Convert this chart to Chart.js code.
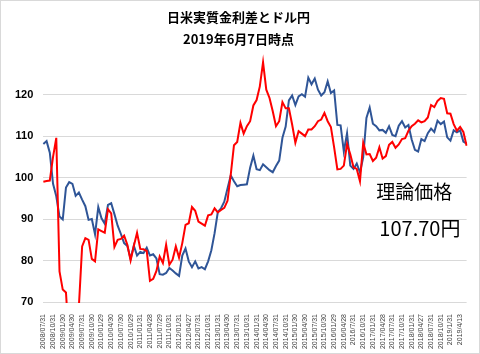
<!DOCTYPE html>
<html>
<head>
<meta charset="utf-8">
<script src="https://cdn.jsdelivr.net/npm/chart.js@4"></script>
<style>
  body { margin: 0; background: #fff; }
  #wrap { width: 480px; height: 354px; box-sizing: border-box; border: 1px solid #d9d9d9; }
  canvas { display: block; }
</style>
</head>
<body>
<div id="wrap"><canvas id="myChart" width="478" height="352"></canvas></div>
<script>
// quarterly tick labels (one every 3 months, starting 2008/07)
let tickLabels = [
  '2008/07/31','2008/10/31','2009/01/30','2009/04/30','2009/07/31','2009/10/30',
  '2010/01/29','2010/04/30','2010/07/30','2010/10/29','2011/01/31','2011/04/28',
  '2011/07/29','2011/10/31','2012/01/31','2012/04/27','2012/07/31','2012/10/31',
  '2013/01/31','2013/04/30','2013/07/31','2013/10/31','2014/01/31','2014/04/30',
  '2014/07/31','2014/10/31','2015/01/30','2015/04/30','2015/07/31','2015/10/30',
  '2016/01/29','2016/04/28','2016/7/31','2016/10/31','2017/01/31','2017/04/28',
  '2017/07/31','2017/10/31','2018/01/31','2018/04/27','2018/07/31','2018/10/31',
  '2019/1/31','2019/4/13'
];

// monthly USD/JPY (blue), 2008/07 .. 2019/06
let usdjpy = [
  108.1,108.8,106.0,98.5,95.5,90.6,
  89.9,97.6,98.9,98.5,95.6,96.4,94.7,93.1,89.8,90.0,86.3,92.9,
  90.2,88.9,93.4,93.8,91.2,88.4,86.4,84.2,83.5,80.4,83.6,81.2,
  82.1,81.8,83.1,81.2,81.5,80.5,76.7,76.6,77.0,78.2,77.6,76.9,
  76.3,81.2,82.9,79.8,78.4,79.8,78.1,78.4,77.9,79.8,82.5,86.6,
  91.7,92.6,94.2,97.4,100.5,99.1,97.9,98.2,98.3,98.4,102.4,105.3,
  102.0,101.8,103.2,102.5,101.8,101.3,102.8,104.1,109.6,112.3,118.6,119.8,
  117.5,119.6,120.1,119.5,124.1,122.5,123.9,121.2,119.8,120.6,123.2,120.4,
  121.0,112.7,112.6,106.3,110.7,102.9,102.1,103.4,101.2,104.9,114.4,116.9,
  113.0,112.4,111.4,111.5,110.8,112.4,110.3,110.0,112.5,113.6,112.1,112.7,
  109.2,106.7,106.3,109.3,108.8,110.7,111.8,111.0,113.7,112.9,113.5,109.7,
  108.9,111.4,110.9,111.4,108.7,108.2
];

// theoretical price from real rate spread (red)
let theory = [
  99.0,99.2,99.3,105.0,109.6,77.4,
  73.0,72.3,60.0,58.0,62.0,69.0,83.4,85.4,85.0,80.4,79.8,87.5,
  87.1,86.7,92.4,91.4,83.3,85.0,85.2,86.0,83.8,80.0,83.5,86.7,
  82.8,82.7,82.3,75.1,75.6,77.5,81.0,79.4,83.8,79.0,80.2,83.4,
  80.7,84.2,88.6,89.0,92.9,92.0,89.4,88.9,88.4,90.9,91.1,92.6,
  91.6,92.2,92.7,94.4,100.7,107.8,108.6,113.2,110.6,112.4,113.6,117.4,
  118.7,122.0,127.8,121.2,119.2,116.0,112.4,113.6,118.2,116.7,116.7,112.8,
  108.4,111.2,110.6,110.0,111.6,111.6,112.4,113.6,114.0,115.6,113.6,112.2,
  107.3,102.0,102.1,102.9,108.1,105.6,102.5,102.1,99.1,108.4,105.6,105.7,
  104.0,104.8,107.3,104.6,105.2,107.9,108.6,107.2,108.0,109.3,109.5,111.3,
  112.4,113.0,113.8,113.3,113.6,114.5,117.5,117.0,118.5,119.2,119.0,115.5,
  115.4,112.9,111.3,112.2,111.0,107.70
];

let titleLines = ['日米実質金利差とドル円', '2019年6月7日時点'];
let noteLabel = '理論価格';

var labels = usdjpy.map(function (v, i) {
  return i % 3 === 0 ? tickLabels[i / 3] : '';
});

// big note text inside the plot, placed on the chart's own scales
var notePlugin = {
  id: 'note',
  afterDatasetsDraw: function (chart) {
    var ctx = chart.ctx;
    var xs = chart.scales.x;
    var ys = chart.scales.y;
    ctx.save();
    ctx.fillStyle = '#000';
    ctx.textAlign = 'left';
    ctx.textBaseline = 'middle';
    ctx.font = '19px "Noto Sans CJK JP"';
    ctx.fillText(noteLabel, xs.getPixelForValue(103), ys.getPixelForValue(96.7));
    ctx.font = '20px "Noto Sans CJK JP"';
    ctx.fillText(theory[theory.length - 1].toFixed(2) + '円', xs.getPixelForValue(104), ys.getPixelForValue(87.8));
    ctx.restore();
  }
};

var ctx = document.getElementById('myChart').getContext('2d');
var myChart = new Chart(ctx, {
  type: 'line',
  data: {
    labels: labels,
    datasets: [{
      data: theory,
      borderColor: '#ff0000',
      borderWidth: 2,
      pointRadius: 0,
      fill: false,
      tension: 0,
      clip: 1
    }, {
      data: usdjpy,
      borderColor: '#2f5597',
      borderWidth: 2,
      pointRadius: 0,
      fill: false,
      tension: 0,
      clip: 1
    }]
  },
  options: {
    responsive: false,
    animation: false,
    layout: { padding: { left: 4, right: 7, top: 0, bottom: 0 } },
    plugins: {
      legend: { display: false },
      tooltip: { enabled: false },
      title: {
        display: true,
        text: titleLines,
        color: '#000',
        font: { family: '"Noto Sans CJK JP"', size: 13, weight: 'bold', lineHeight: 1.7 },
        padding: { top: 5, bottom: 3 }
      }
    },
    scales: {
      x: {
        grid: { display: false },
        border: { display: false },
        afterFit: function (scale) { scale.height = 51; },
        ticks: {
          autoSkip: false,
          minRotation: 90,
          maxRotation: 90,
          padding: 4,
          color: '#404040',
          font: { family: '"Liberation Sans"', size: 7 }
        }
      },
      y: {
        min: 70,
        max: 130,
        border: { display: false },
        grid: {
          drawTicks: false,
          color: function (c) { return c.tick && c.tick.value === 130 ? 'rgba(0,0,0,0)' : '#d9d9d9'; }
        },
        ticks: {
          stepSize: 10,
          padding: 10,
          color: '#000',
          font: { family: '"Liberation Sans"', size: 11, weight: 'bold' },
          callback: function (v) { return v === 130 ? '' : v; }
        }
      }
    }
  },
  plugins: [notePlugin]
});
</script>
</body>
</html>
